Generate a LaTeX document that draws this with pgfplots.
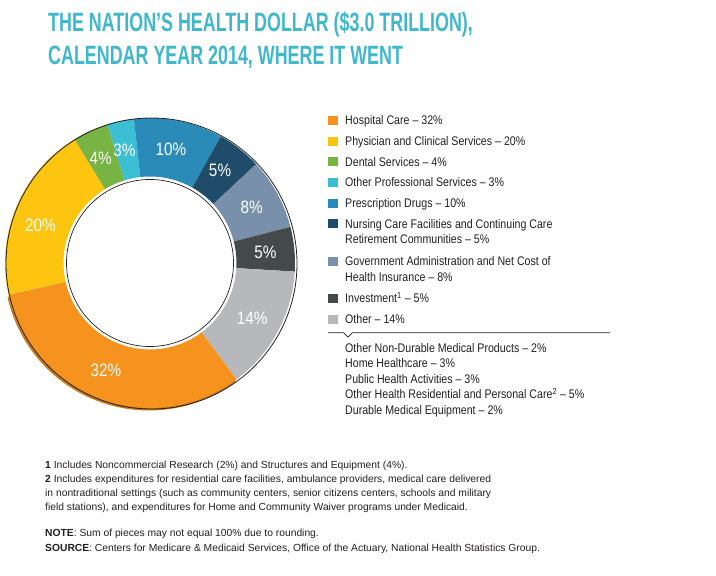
\documentclass[border=0pt]{standalone}
\usepackage{fontspec}
\usepackage{pgfplots}
\usepackage{pgfplotstable}
\pgfplotsset{compat=1.18}
\setmainfont{Liberation Sans}
\newfontfamily\condfont[FakeStretch=0.85]{Liberation Sans}
\newfontfamily\titlefont[FakeStretch=0.675]{Liberation Sans}
\newfontfamily\notefont{Liberation Sans}

\definecolor{cHosp}{HTML}{F6931E}
\definecolor{cPhys}{HTML}{FDC50F}
\definecolor{cDent}{HTML}{78B443}
\definecolor{cProf}{HTML}{3DBFD3}
\definecolor{cDrug}{HTML}{2A8AB8}
\definecolor{cNurs}{HTML}{1F4D69}
\definecolor{cGov}{HTML}{7890AA}
\definecolor{cInv}{HTML}{444A4C}
\definecolor{cOth}{HTML}{B6B8BB}
\definecolor{cTitle}{HTML}{3FB8CC}
\definecolor{cText}{HTML}{231F20}
\definecolor{cShadow}{HTML}{C97A12}

% share of the health dollar, percent (clockwise from the lower right)
% labshift: small angular nudge of the percentage label, degrees
\pgfplotstableread{
name value color labshift
Hospital 32 cHosp -2
Physician 20 cPhys 4
Dental 4 cDent 1
OtherProf 3 cProf 1
Drugs 10 cDrug 1
Nursing 5 cNurs 1
GovAdmin 8 cGov 0
Investment 5 cInv 0
Other 14 cOth 0
}\donutdata

\pgfplotstablegetrowsof{\donutdata}
\pgfmathtruncatemacro\lastrow{\pgfplotsretval-1}
\xdef\donuttotal{0}
\foreach \i in {0,...,\lastrow}{%
  \pgfplotstablegetelem{\i}{value}\of\donutdata
  \pgfmathsetmacro\tmpsum{\donuttotal+\pgfplotsretval}%
  \global\let\donuttotal\tmpsum
}
\xdef\curang{-53.3}
\foreach \i in {0,...,\lastrow}{%
  \pgfplotstablegetelem{\i}{value}\of\donutdata
  \let\dv\pgfplotsretval
  \expandafter\xdef\csname dsval\i\endcsname{\dv}%
  \pgfmathsetmacro\endang{\curang-\dv*360/\donuttotal}%
  \expandafter\xdef\csname dssa\i\endcsname{\curang}%
  \expandafter\xdef\csname dsea\i\endcsname{\endang}%
  \global\let\curang\endang
  \pgfplotstablegetelem{\i}{color}\of\donutdata
  \expandafter\xdef\csname dscol\i\endcsname{\pgfplotsretval}%
  \pgfplotstablegetelem{\i}{labshift}\of\donutdata
  \expandafter\xdef\csname dsls\i\endcsname{\pgfplotsretval}%
}

\newcommand\donutslice[2]{%
  \edef\dsA{\csname dssa#1\endcsname}%
  \edef\dsE{\csname dsea#1\endcsname}%
  \edef\dsC{\csname dscol#1\endcsname}%
  \edef\dstmp{\noexpand\fill[fill=\dsC,#2] ([shift={(\dsA:145pt)}]axis cs:0,0) arc[start angle=\dsA,end angle=\dsE,radius=145pt] -- ([shift={(\dsE:86.5pt)}]axis cs:0,0) arc[start angle=\dsE,end angle=\dsA,radius=86.5pt] -- cycle;}%
  \dstmp
}
\newcommand\donutlabel[1]{%
  \edef\dsA{\csname dssa#1\endcsname}%
  \edef\dsE{\csname dsea#1\endcsname}%
  \edef\dsV{\csname dsval#1\endcsname}%
  \edef\dsS{\csname dsls#1\endcsname}%
  \pgfmathsetmacro\dsM{(\dsA+\dsE)/2+\dsS}%
  \edef\dstmp{\noexpand\node[text=white,inner sep=0pt,font=\noexpand\condfont\noexpand\fontsize{18}{18}\noexpand\selectfont] at ([shift={(\dsM:116pt)}]axis cs:0,0) {\dsV\noexpand\%};}%
  \dstmp
}

\begin{document}
\begin{tikzpicture}[x=1pt,y=1pt]
\path[use as bounding box] (0,0) rectangle (716,576);
\begin{axis}[
  at={(150,576-263)}, anchor=origin,
  scale only axis, width=300pt, height=300pt,
  xmin=-150, xmax=150, ymin=-150, ymax=150,
  hide axis, clip=false]
  \donutslice{0}{fill=cShadow,shift={(-1pt,-2.5pt)}}
  \pgfplotsinvokeforeach{0,...,8}{\donutslice{#1}{}}
  \draw[cText,line width=0.8pt] ([shift={(1.5pt,-0.5pt)}]axis cs:0,0) circle[radius=145.5pt];
  \draw[cText,line width=0.7pt] (axis cs:0,0) circle[radius=83.5pt];
  \pgfplotsinvokeforeach{0,...,8}{\donutlabel{#1}}
\end{axis}

% title
\node[anchor=base west,inner sep=0pt,text=cTitle,font=\titlefont\bfseries\fontsize{26.5}{30}\selectfont] at (48,576-32) {THE NATION’S HEALTH DOLLAR (\$3.0 TRILLION),};
\node[anchor=base west,inner sep=0pt,text=cTitle,font=\titlefont\bfseries\fontsize{26.5}{30}\selectfont] at (48,576-65) {CALENDAR YEAR 2014, WHERE IT WENT};

% legend
\tikzset{leg/.style={anchor=base west,inner sep=0pt,text=cText,font=\condfont\fontsize{12.5}{15}\selectfont}}
\newcommand\legsq[2]{\fill[#1] (328,576-#2) rectangle (337.5,576-#2+9);}
\legsq{cHosp}{125}\node[leg] at (345,576-125) {Hospital Care – 32\%};
\legsq{cPhys}{145.7}\node[leg] at (345,576-145.7) {Physician and Clinical Services – 20\%};
\legsq{cDent}{166.3}\node[leg] at (345,576-166.3) {Dental Services – 4\%};
\legsq{cProf}{187}\node[leg] at (345,576-187) {Other Professional Services – 3\%};
\legsq{cDrug}{207.7}\node[leg] at (345,576-207.7) {Prescription Drugs – 10\%};
\legsq{cNurs}{228.3}\node[leg] at (345,576-228.3) {Nursing Care Facilities and Continuing Care};
\node[leg] at (345,576-244) {Retirement Communities – 5\%};
\legsq{cGov}{266}\node[leg] at (345,576-266) {Government Administration and Net Cost of};
\node[leg] at (345,576-281.7) {Health Insurance – 8\%};
\legsq{cInv}{303}\node[leg] at (345,576-303) {Investment\textsuperscript{1} – 5\%};
\legsq{cOth}{324}\node[leg] at (345,576-324) {Other – 14\%};
\draw[cText,line width=0.7pt] (328,576-332.7) -- (343.5,576-332.7) -- (348,576-337.2) -- (352.5,576-332.7) -- (610,576-332.7);
\node[leg] at (345,576-352.5) {Other Non-Durable Medical Products – 2\%};
\node[leg] at (345,576-368) {Home Healthcare – 3\%};
\node[leg] at (345,576-383.5) {Public Health Activities – 3\%};
\node[leg] at (345,576-399) {Other Health Residential and Personal Care\textsuperscript{2} – 5\%};
\node[leg] at (345,576-414.5) {Durable Medical Equipment – 2\%};

% notes
\tikzset{note/.style={anchor=base west,inner sep=0pt,text=cText,font=\notefont\fontsize{10.3}{12}\selectfont}}
\node[note] at (45,576-469) {\textbf{1} Includes Noncommercial Research (2\%) and Structures and Equipment (4\%).};
\node[note] at (45,576-483) {\textbf{2} Includes expenditures for residential care facilities, ambulance providers, medical care delivered};
\node[note] at (45,576-497) {in nontraditional settings (such as community centers, senior citizens centers, schools and military};
\node[note] at (45,576-511) {field stations), and expenditures for Home and Community Waiver programs under Medicaid.};
\node[note] at (45,576-537) {\textbf{NOTE}: Sum of pieces may not equal 100\% due to rounding.};
\node[note] at (45,576-552) {\textbf{SOURCE}: Centers for Medicare \& Medicaid Services, Office of the Actuary, National Health Statistics Group.};
\end{tikzpicture}
\end{document}
